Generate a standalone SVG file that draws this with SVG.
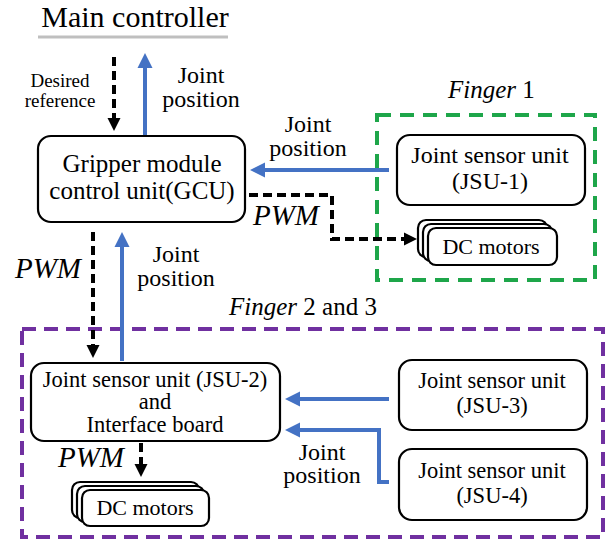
<svg xmlns="http://www.w3.org/2000/svg" width="607" height="540" viewBox="0 0 607 540">
<defs>
<marker id="ab" markerUnits="userSpaceOnUse" markerWidth="16" markerHeight="16" viewBox="0 -8 16 16" refX="0" refY="0" orient="auto"><path d="M0,-7.5 L15,0 L0,7.5 z" fill="#4472C4"/></marker>
<marker id="ak" markerUnits="userSpaceOnUse" markerWidth="16" markerHeight="16" viewBox="0 -8 16 16" refX="0" refY="0" orient="auto"><path d="M0,-6.5 L13,0 L0,6.5 z" fill="#000"/></marker>
</defs>
<g font-family="Liberation Serif, Tinos, Times New Roman, serif" style="font-family:'Liberation Serif','Times New Roman',serif !important" fill="#000">
<g id="main">
<text x="135" y="27" text-anchor="middle" font-size="30" style="font-family:'Liberation Serif',serif !important">Main controller</text>
<line x1="38" y1="37" x2="228" y2="37" stroke="#bfbfbf" stroke-width="3"/>
</g>
<g id="finger1-group">
<rect x="377" y="115" width="218" height="165" fill="none" stroke="#1ea64a" stroke-width="4" stroke-dasharray="14 9"/>
<text x="448" y="98" font-size="25" style="font-family:'Liberation Serif',serif !important"><tspan font-style="italic">Finger</tspan> 1</text>
</g>
<g id="finger23-group">
<rect x="22" y="329" width="581" height="208" fill="none" stroke="#7030A0" stroke-width="4" stroke-dasharray="14 8"/>
<text x="229" y="315" font-size="25" style="font-family:'Liberation Serif',serif !important"><tspan font-style="italic">Finger</tspan> 2 and 3</text>
</g>
<g id="gcu" text-anchor="middle" font-size="25">
<rect x="38" y="136" width="207" height="86" rx="13" fill="#fff" stroke="#000" stroke-width="2.2"/>
<text x="142" y="172" style="font-family:'Liberation Serif',serif !important">Gripper module</text>
<text x="142" y="199" style="font-family:'Liberation Serif',serif !important">control unit(GCU)</text>
</g>
<g id="jsu1" text-anchor="middle" font-size="24">
<rect x="397" y="135" width="188" height="70" rx="13" fill="#fff" stroke="#000" stroke-width="2.2"/>
<text x="490" y="163" style="font-family:'Liberation Serif',serif !important">Joint sensor unit</text>
<text x="490" y="189" style="font-family:'Liberation Serif',serif !important">(JSU-1)</text>
</g>
<g id="dc1" text-anchor="middle" font-size="22">
<g fill="#fff" stroke="#000" stroke-width="2.2">
<rect x="418" y="220" width="129" height="37" rx="8"/>
<rect x="423" y="224" width="129" height="37" rx="8"/>
<rect x="428" y="228" width="129" height="37" rx="8"/>
</g>
<text x="491" y="254" style="font-family:'Liberation Serif',serif !important">DC motors</text>
</g>
<g id="jsu2" text-anchor="middle" font-size="22.5">
<rect x="31" y="363" width="249" height="78" rx="13" fill="#fff" stroke="#000" stroke-width="2.2"/>
<text x="155" y="387" style="font-family:'Liberation Serif',serif !important">Joint sensor unit (JSU-2)</text>
<text x="155" y="409" style="font-family:'Liberation Serif',serif !important">and</text>
<text x="155" y="432" style="font-family:'Liberation Serif',serif !important">Interface board</text>
</g>
<g id="dc2" text-anchor="middle" font-size="22">
<g fill="#fff" stroke="#000" stroke-width="2.2">
<rect x="72" y="482" width="127" height="36" rx="8"/>
<rect x="77" y="486" width="127" height="36" rx="8"/>
<rect x="82" y="490" width="127" height="36" rx="8"/>
</g>
<text x="145" y="515" style="font-family:'Liberation Serif',serif !important">DC motors</text>
</g>
<g id="jsu3" text-anchor="middle" font-size="22.5">
<rect x="399" y="360" width="188" height="70" rx="13" fill="#fff" stroke="#000" stroke-width="2.2"/>
<text x="492" y="388" style="font-family:'Liberation Serif',serif !important">Joint sensor unit</text>
<text x="492" y="413" style="font-family:'Liberation Serif',serif !important">(JSU-3)</text>
</g>
<g id="jsu4" text-anchor="middle" font-size="22.5">
<rect x="399" y="449" width="188" height="71" rx="13" fill="#fff" stroke="#000" stroke-width="2.2"/>
<text x="492" y="478" style="font-family:'Liberation Serif',serif !important">Joint sensor unit</text>
<text x="492" y="503" style="font-family:'Liberation Serif',serif !important">(JSU-4)</text>
</g>
<g id="connectors" fill="none" stroke-width="4">
<g stroke="#000" stroke-dasharray="9 5" marker-end="url(#ak)">
<path d="M114,57 V118"/>
<path d="M249,195 H332 V239 H404"/>
<path d="M93,232 V345"/>
<path d="M141,443 V464"/>
</g>
<g stroke="#4472C4" marker-end="url(#ab)">
<path d="M145,135 V68"/>
<path d="M389,170 H265"/>
<path d="M122,361 V247"/>
<path d="M389,399 H300"/>
<path d="M389,482 H379 V430 H300"/>
</g>
</g>
<g id="labels" text-anchor="middle" font-size="24">
<text x="60" y="87" font-size="19" style="font-family:'Liberation Serif',serif !important">Desired</text>
<text x="60" y="107" font-size="19" style="font-family:'Liberation Serif',serif !important">reference</text>
<text x="201" y="83" style="font-family:'Liberation Serif',serif !important">Joint</text>
<text x="201" y="107" style="font-family:'Liberation Serif',serif !important">position</text>
<text x="308" y="132" style="font-family:'Liberation Serif',serif !important">Joint</text>
<text x="308" y="156" style="font-family:'Liberation Serif',serif !important">position</text>
<text x="176" y="262" style="font-family:'Liberation Serif',serif !important">Joint</text>
<text x="176" y="286" style="font-family:'Liberation Serif',serif !important">position</text>
<text x="322" y="460" style="font-family:'Liberation Serif',serif !important">Joint</text>
<text x="322" y="483" style="font-family:'Liberation Serif',serif !important">position</text>
</g>
<g id="pwm-labels" font-style="italic" font-size="29">
<text x="253" y="225" style="font-family:'Liberation Serif',serif !important">PWM</text>
<text x="15" y="278" style="font-family:'Liberation Serif',serif !important">PWM</text>
<text x="58" y="467" style="font-family:'Liberation Serif',serif !important">PWM</text>
</g>
</g>
</svg>
